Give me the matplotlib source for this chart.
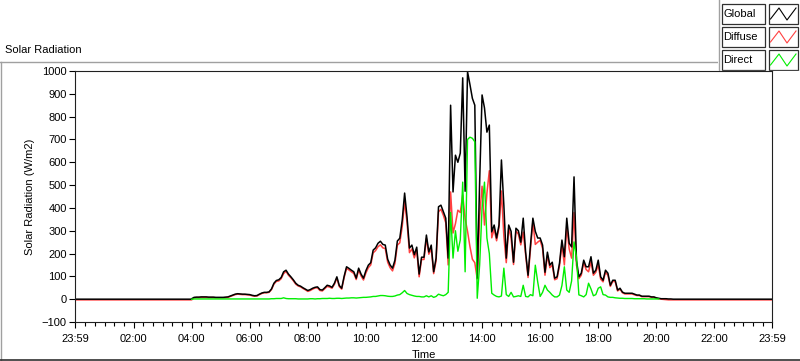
import numpy as np
import matplotlib
matplotlib.use("Agg")
import matplotlib.pyplot as plt
from matplotlib.patches import Rectangle
from matplotlib.lines import Line2D

plt.rcParams['font.family'] = ['Liberation Sans', 'DejaVu Sans']

# 5-minute readings, one row per hour, 04:00 .. 20:55 (W/m2)
global_rad = [
    2, 8, 9, 9, 10, 10, 10, 9, 9, 9, 8, 8,                              # 04
    8, 8, 9, 10, 14, 18, 22, 24, 23, 22, 22, 21,                        # 05
    20, 17, 15, 16, 22, 27, 30, 30, 32, 45, 70, 82,                     # 06
    85, 95, 120, 127, 110, 98, 85, 70, 61, 57, 50, 44,                  # 07
    38, 42, 48, 52, 54, 42, 40, 50, 61, 58, 52, 70,                     # 08
    98, 60, 48, 100, 142, 135, 127, 120, 92, 136, 110, 92,              # 09
    125, 149, 160, 215, 225, 245, 254, 240, 237, 175, 150, 136,         # 10
    171, 255, 267, 346, 465, 360, 224, 237, 195, 228, 110, 184,         # 11
    184, 281, 207, 237, 120, 180, 405, 412, 383, 355, 180, 850,         # 12
    470, 631, 600, 640, 970, 473, 997, 940, 880, 850, 92, 514,          # 13
    895, 838, 732, 763, 295, 325, 268, 325, 610, 412, 180, 325,         # 14
    297, 162, 311, 300, 250, 355, 206, 105, 237, 355, 297, 268,         # 15
    268, 237, 118, 206, 149, 162, 92, 98, 158, 259, 186, 355,           # 16
    245, 229, 536, 171, 98, 114, 171, 142, 142, 186, 114, 127,          # 17
    171, 98, 83, 127, 114, 61, 83, 83, 40, 48, 31, 26,                  # 18
    26, 26, 26, 22, 18, 18, 13, 13, 13, 13, 10, 10,                     # 19
    6, 4, 2, 2, 2, 1, 1, 0, 0, 0, 0, 0,                                 # 20
]

diffuse_rad = [
    -3, 6, 7, 7, 8, 8, 8, 7, 7, 7, 6, 6,
    6, 6, 7, 8, 12, 16, 20, 22, 21, 20, 20, 19,
    18, 15, 13, 14, 20, 25, 28, 28, 30, 42, 66, 78,
    80, 90, 112, 122, 105, 94, 81, 66, 58, 54, 47, 41,
    34, 38, 44, 49, 50, 38, 36, 46, 56, 53, 48, 65,
    92, 55, 44, 94, 135, 128, 120, 113, 86, 128, 102, 84,
    115, 138, 150, 203, 213, 230, 238, 225, 222, 162, 138, 124,
    157, 237, 247, 318, 427, 335, 204, 220, 181, 215, 98, 174,
    174, 266, 197, 222, 112, 168, 383, 394, 368, 335, 150, 470,
    290, 331, 390, 380, 457, 353, 297, 230, 175, 160, 88, 364,
    495, 325, 464, 563, 269, 307, 256, 315, 474, 276, 160, 313,
    267, 152, 299, 285, 238, 294, 194, 95, 217, 340, 240, 250,
    258, 222, 105, 193, 138, 150, 85, 90, 147, 240, 150, 318,
    220, 180, 380, 150, 90, 105, 160, 130, 120, 165, 105, 118,
    150, 88, 76, 118, 105, 56, 78, 77, 36, 44, 28, 23,
    23, 23, 23, 19, 16, 16, 11, 11, 11, 11, 8, 8,
    4, 2, 0, -1, -2, -3, -3, -3, -3, -3, -3, -3,
]

direct_rad = [
    0, 1, 1, 1, 1, 1, 1, 1, 1, 1, 1, 1,
    1, 1, 1, 1, 1, 1, 1, 1, 1, 1, 1, 1,
    1, 1, 1, 1, 1, 1, 1, 1, 1, 2, 2, 3,
    3, 3, 6, 3, 2, 2, 2, 2, 1, 1, 1, 1,
    1, 2, 2, 1, 2, 2, 3, 3, 3, 4, 3, 3,
    4, 4, 3, 4, 5, 5, 6, 6, 5, 6, 7, 8,
    8, 9, 10, 12, 12, 14, 16, 16, 15, 13, 12, 12,
    14, 18, 20, 28, 38, 25, 20, 17, 14, 12, 12, 10,
    10, 15, 10, 15, 8, 12, 22, 18, 15, 20, 30, 380,
    180, 300, 210, 260, 513, 120, 700, 710, 705, 690, 4, 150,
    400, 513, 268, 200, 26, 18, 12, 10, 14, 136, 20, 12,
    30, 10, 12, 15, 12, 61, 12, 10, 20, 15, 149, 75,
    12, 30, 61, 40, 30, 18, 10, 10, 18, 60, 142, 40,
    30, 80, 251, 186, 19, 15, 10, 20, 70, 45, 15, 20,
    48, 54, 20, 18, 10, 8, 8, 6, 5, 4, 4, 3,
    3, 3, 3, 2, 2, 2, 2, 2, 1, 1, 1, 1,
    1, 1, np.nan, np.nan, np.nan, np.nan, np.nan, np.nan, np.nan, np.nan, np.nan, np.nan,
]

# night-time readings (before 04:00 and after 21:00)
night_hours_before = [-1 / 60, 3.99]
night_hours_after = [21.0, 24 - 1 / 60]
global_night = [0, 0]
diffuse_night = [-3, -3]

tick_hours = [-1 / 60, 2, 4, 6, 8, 10, 12, 14, 16, 18, 20, 22, 24 - 1 / 60]
tick_labels = ["23:59", "02:00", "04:00", "06:00", "08:00", "10:00", "12:00",
               "14:00", "16:00", "18:00", "20:00", "22:00", "23:59"]

day_hours = np.arange(4 * 60, 21 * 60, 5) / 60.0
t_all = np.concatenate([night_hours_before, day_hours, night_hours_after])
g_all = np.concatenate([global_night, global_rad, global_night])
d_all = np.concatenate([diffuse_night, diffuse_rad, diffuse_night])

W, H = 800, 361
fig = plt.figure(figsize=(W / 100, H / 100), dpi=100)
fig.patch.set_facecolor('white')

# outer panel frame
frame = fig.add_axes([0, 0, 1, 1])
frame.set_xlim(0, W)
frame.set_ylim(H, 0)
frame.axis('off')
frame.add_line(Line2D([0.5, 0.5], [62, 360], color='#a0a0a0', lw=1))
frame.add_line(Line2D([0, 720], [62, 62], color='#a0a0a0', lw=1))
frame.add_line(Line2D([0, W], [360, 360], color='#303030', lw=1.2))
frame.text(5, 50, "Solar Radiation", fontsize=8, va='center', ha='left')

ax = fig.add_axes([75 / W, 1 - 322 / H, (772 - 75) / W, (322 - 71) / H])
ax.plot(t_all, d_all, color='#ff4040', lw=1.1)
ax.plot(t_all, g_all, color='black', lw=1.1)
ax.plot(day_hours, direct_rad, color='#00ee00', lw=1.0)

ax.set_xlim(-1 / 60, 24 - 1 / 60)
ax.set_ylim(-100, 1000)
ax.set_yticks(np.arange(-100, 1001, 100))
ax.set_xticks(tick_hours)
ax.set_xticklabels(tick_labels)
ax.set_xticks([m / 3 for m in range(1, 72) if m % 6 != 0], minor=True)
ax.tick_params(axis='both', labelsize=8, direction='out', width=0.8, color='black')
ax.tick_params(axis='x', which='major', length=4, pad=5)
ax.tick_params(axis='x', which='minor', length=3, width=0.8)
ax.tick_params(axis='y', length=4, pad=2)
for s in ax.spines.values():
    s.set_linewidth(0.8)
    s.set_color('#202020')
ax.set_xlabel("Time", fontsize=8, labelpad=4)
ax.set_ylabel("Solar Radiation (W/m2)", fontsize=8, labelpad=5)

# legend panel in the top right corner
leg = fig.add_axes([718 / W, 1 - 71 / H, 82 / W, 71 / H])
leg.set_xlim(718, 800)
leg.set_ylim(71, 0)
leg.axis('off')
leg.add_patch(Rectangle((718, 0), 82, 71, facecolor='white', edgecolor='none'))
leg.add_line(Line2D([718.5, 718.5], [0, 70.5], color='#a0a0a0', lw=1))
leg.add_line(Line2D([718.5, 800], [70.5, 70.5], color='#a0a0a0', lw=1))
names = ["Global", "Diffuse", "Direct"]
colors = ['black', '#ff4040', '#00ee00']
for i, (name, c) in enumerate(zip(names, colors)):
    top = 4 + i * 23
    leg.add_patch(Rectangle((721.5, top), 43, 20, facecolor='white', edgecolor='#303030', lw=0.9))
    leg.text(723.5, top + 10, name, fontsize=8, va='center', ha='left')
    leg.add_patch(Rectangle((768.5, top), 29, 20, facecolor='white', edgecolor='#303030', lw=0.9))
    zx = [770.5, 779, 787, 796]
    zy = [top + 15, top + 4, top + 16, top + 4]
    leg.add_line(Line2D(zx, zy, color=c, lw=0.8))

fig.savefig("out.png", dpi=100)
